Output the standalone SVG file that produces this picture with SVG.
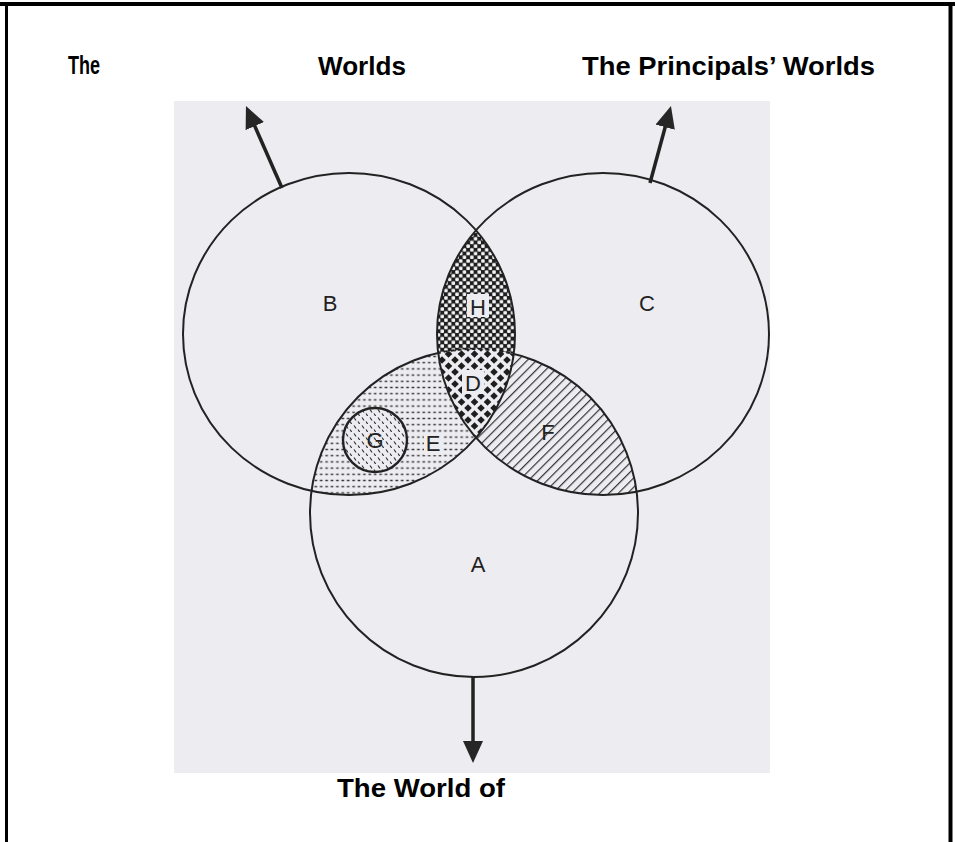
<svg xmlns="http://www.w3.org/2000/svg" width="955" height="842" viewBox="0 0 955 842">
<style>
.title{font-family:"Liberation Sans",Arial,sans-serif;font-weight:bold;font-size:26px;fill:#000}
.lbl{font-family:"Liberation Sans",Arial,sans-serif;font-size:22px;fill:#222;text-anchor:middle}
.outline{fill:none;stroke:#222;stroke-width:2}
.conn{stroke:#222;stroke-width:3.5;fill:none}
</style>
<defs>
<ellipse id="shB" cx="349" cy="334" rx="166" ry="161"/>
<ellipse id="shC" cx="603" cy="334" rx="166" ry="161"/>
<circle id="shA" cx="474" cy="513" r="164"/>
<clipPath id="clipA"><use href="#shA"/></clipPath>
<clipPath id="clipB"><use href="#shB"/></clipPath>
<clipPath id="clipC"><use href="#shC"/></clipPath>
<pattern id="checker" patternUnits="userSpaceOnUse" width="7.4" height="7.4">
<rect width="7.4" height="7.4" fill="#1e1e1e"/>
<rect x="0.2" y="0.2" width="3.5" height="3.5" rx="0.9" fill="#f4f4f6"/>
<rect x="3.9" y="3.9" width="3.5" height="3.5" rx="0.9" fill="#f4f4f6"/>
</pattern>
<pattern id="diamonds" patternUnits="userSpaceOnUse" width="13" height="12">
<polygon points="6.5,2.2 10.3,6 6.5,9.8 2.7,6" fill="#1e1e1e"/>
<polygon points="0,-3.8 3.8,0 0,3.8 -3.8,0" fill="#1e1e1e"/>
<polygon points="13,-3.8 16.8,0 13,3.8 9.2,0" fill="#1e1e1e"/>
<polygon points="0,8.2 3.8,12 0,15.8 -3.8,12" fill="#1e1e1e"/>
<polygon points="13,8.2 16.8,12 13,15.8 9.2,12" fill="#1e1e1e"/>
</pattern>
<pattern id="dots" patternUnits="userSpaceOnUse" width="5.4" height="6.2">
<rect x="1.3" y="2.4" width="2.6" height="1.4" fill="#333"/>
</pattern>
<pattern id="lines" patternUnits="userSpaceOnUse" width="6.6" height="6.6" patternTransform="rotate(45)">
<rect x="0" y="0" width="1.2" height="6.6" fill="#333"/>
</pattern>
<pattern id="gdash" patternUnits="userSpaceOnUse" width="8" height="8">
<line x1="2" y1="1.5" x2="4" y2="4.5" stroke="#333" stroke-width="1.2"/>
<line x1="6" y1="5.5" x2="8" y2="8.5" stroke="#333" stroke-width="1.2"/>
</pattern>
<mask id="notBC">
<rect width="955" height="842" fill="#fff"/>
<g clip-path="url(#clipC)"><use href="#shB" fill="#000"/></g>
</mask>
<marker id="arrow" viewBox="0 0 22 20" markerWidth="22" markerHeight="20" markerUnits="userSpaceOnUse" refX="2" refY="10" orient="auto">
<path d="M0,0 L22,10 L0,20 Z" fill="#262626"/>
</marker>
</defs>

<rect width="955" height="842" fill="#fff"/>
<g id="frame">
<line x1="0" y1="4" x2="955" y2="4" stroke="#000" stroke-width="4"/>
<line x1="6.5" y1="2" x2="6.5" y2="842" stroke="#000" stroke-width="3"/>
<line x1="950.5" y1="2" x2="950.5" y2="842" stroke="#000" stroke-width="4"/>
</g>
<rect id="page" x="174" y="101" width="596" height="672" fill="#ededf1"/>

<g id="regions">
<g id="region-E" clip-path="url(#clipB)"><use href="#shA" fill="url(#dots)"/></g>
<g id="region-F" clip-path="url(#clipC)"><use href="#shA" fill="url(#lines)"/></g>
<g id="region-H" clip-path="url(#clipC)"><use href="#shB" fill="url(#checker)"/></g>
<g id="region-D" clip-path="url(#clipC)"><g clip-path="url(#clipB)">
<use href="#shA" fill="#ededf1"/><use href="#shA" fill="url(#diamonds)"/>
</g></g>
<g id="region-G">
<circle cx="375" cy="440" r="32" fill="#ededf1"/>
<circle cx="375" cy="440" r="32" fill="url(#gdash)"/>
<circle cx="375" cy="440" r="32" fill="none" stroke="#222" stroke-width="2.4"/>
</g>
</g>

<g id="nodes">
<g id="node-B"><use href="#shB" class="outline"/></g>
<g id="node-C"><use href="#shC" class="outline"/></g>
<g id="node-A">
<use href="#shA" class="outline" mask="url(#notBC)"/>
<g clip-path="url(#clipC)"><g clip-path="url(#clipB)"><use href="#shA" class="outline" stroke-dasharray="4 3"/></g></g>
</g>
</g>

<g id="connectors">
<line class="conn" x1="282" y1="188" x2="254" y2="124.3" marker-end="url(#arrow)"/>
<line class="conn" x1="650" y1="183" x2="665.7" y2="125.3" marker-end="url(#arrow)"/>
<line class="conn" x1="473" y1="677" x2="473" y2="743" marker-end="url(#arrow)"/>
</g>

<g id="labels">
<rect x="467" y="294" width="22" height="23" fill="#ededf1"/>
<rect x="462" y="370" width="22" height="24" fill="#ededf1"/>
<rect x="424" y="433" width="18" height="22" fill="#ededf1"/>
<text class="lbl" x="330" y="311">B</text>
<text class="lbl" x="647" y="311">C</text>
<text class="lbl" x="478" y="315">H</text>
<text class="lbl" x="473" y="391">D</text>
<text class="lbl" x="375" y="448">G</text>
<text class="lbl" x="433" y="451">E</text>
<text class="lbl" x="548" y="440">F</text>
<text class="lbl" x="478" y="572">A</text>
</g>

<g id="titles">
<text class="title" x="68" y="74" textLength="32" lengthAdjust="spacingAndGlyphs">The</text>
<text class="title" x="318" y="75" textLength="88" lengthAdjust="spacingAndGlyphs">Worlds</text>
<text class="title" x="582" y="75" textLength="293" lengthAdjust="spacingAndGlyphs">The Principals’ Worlds</text>
<text class="title" x="337" y="797" textLength="168" lengthAdjust="spacingAndGlyphs">The World of</text>
</g>
</svg>
